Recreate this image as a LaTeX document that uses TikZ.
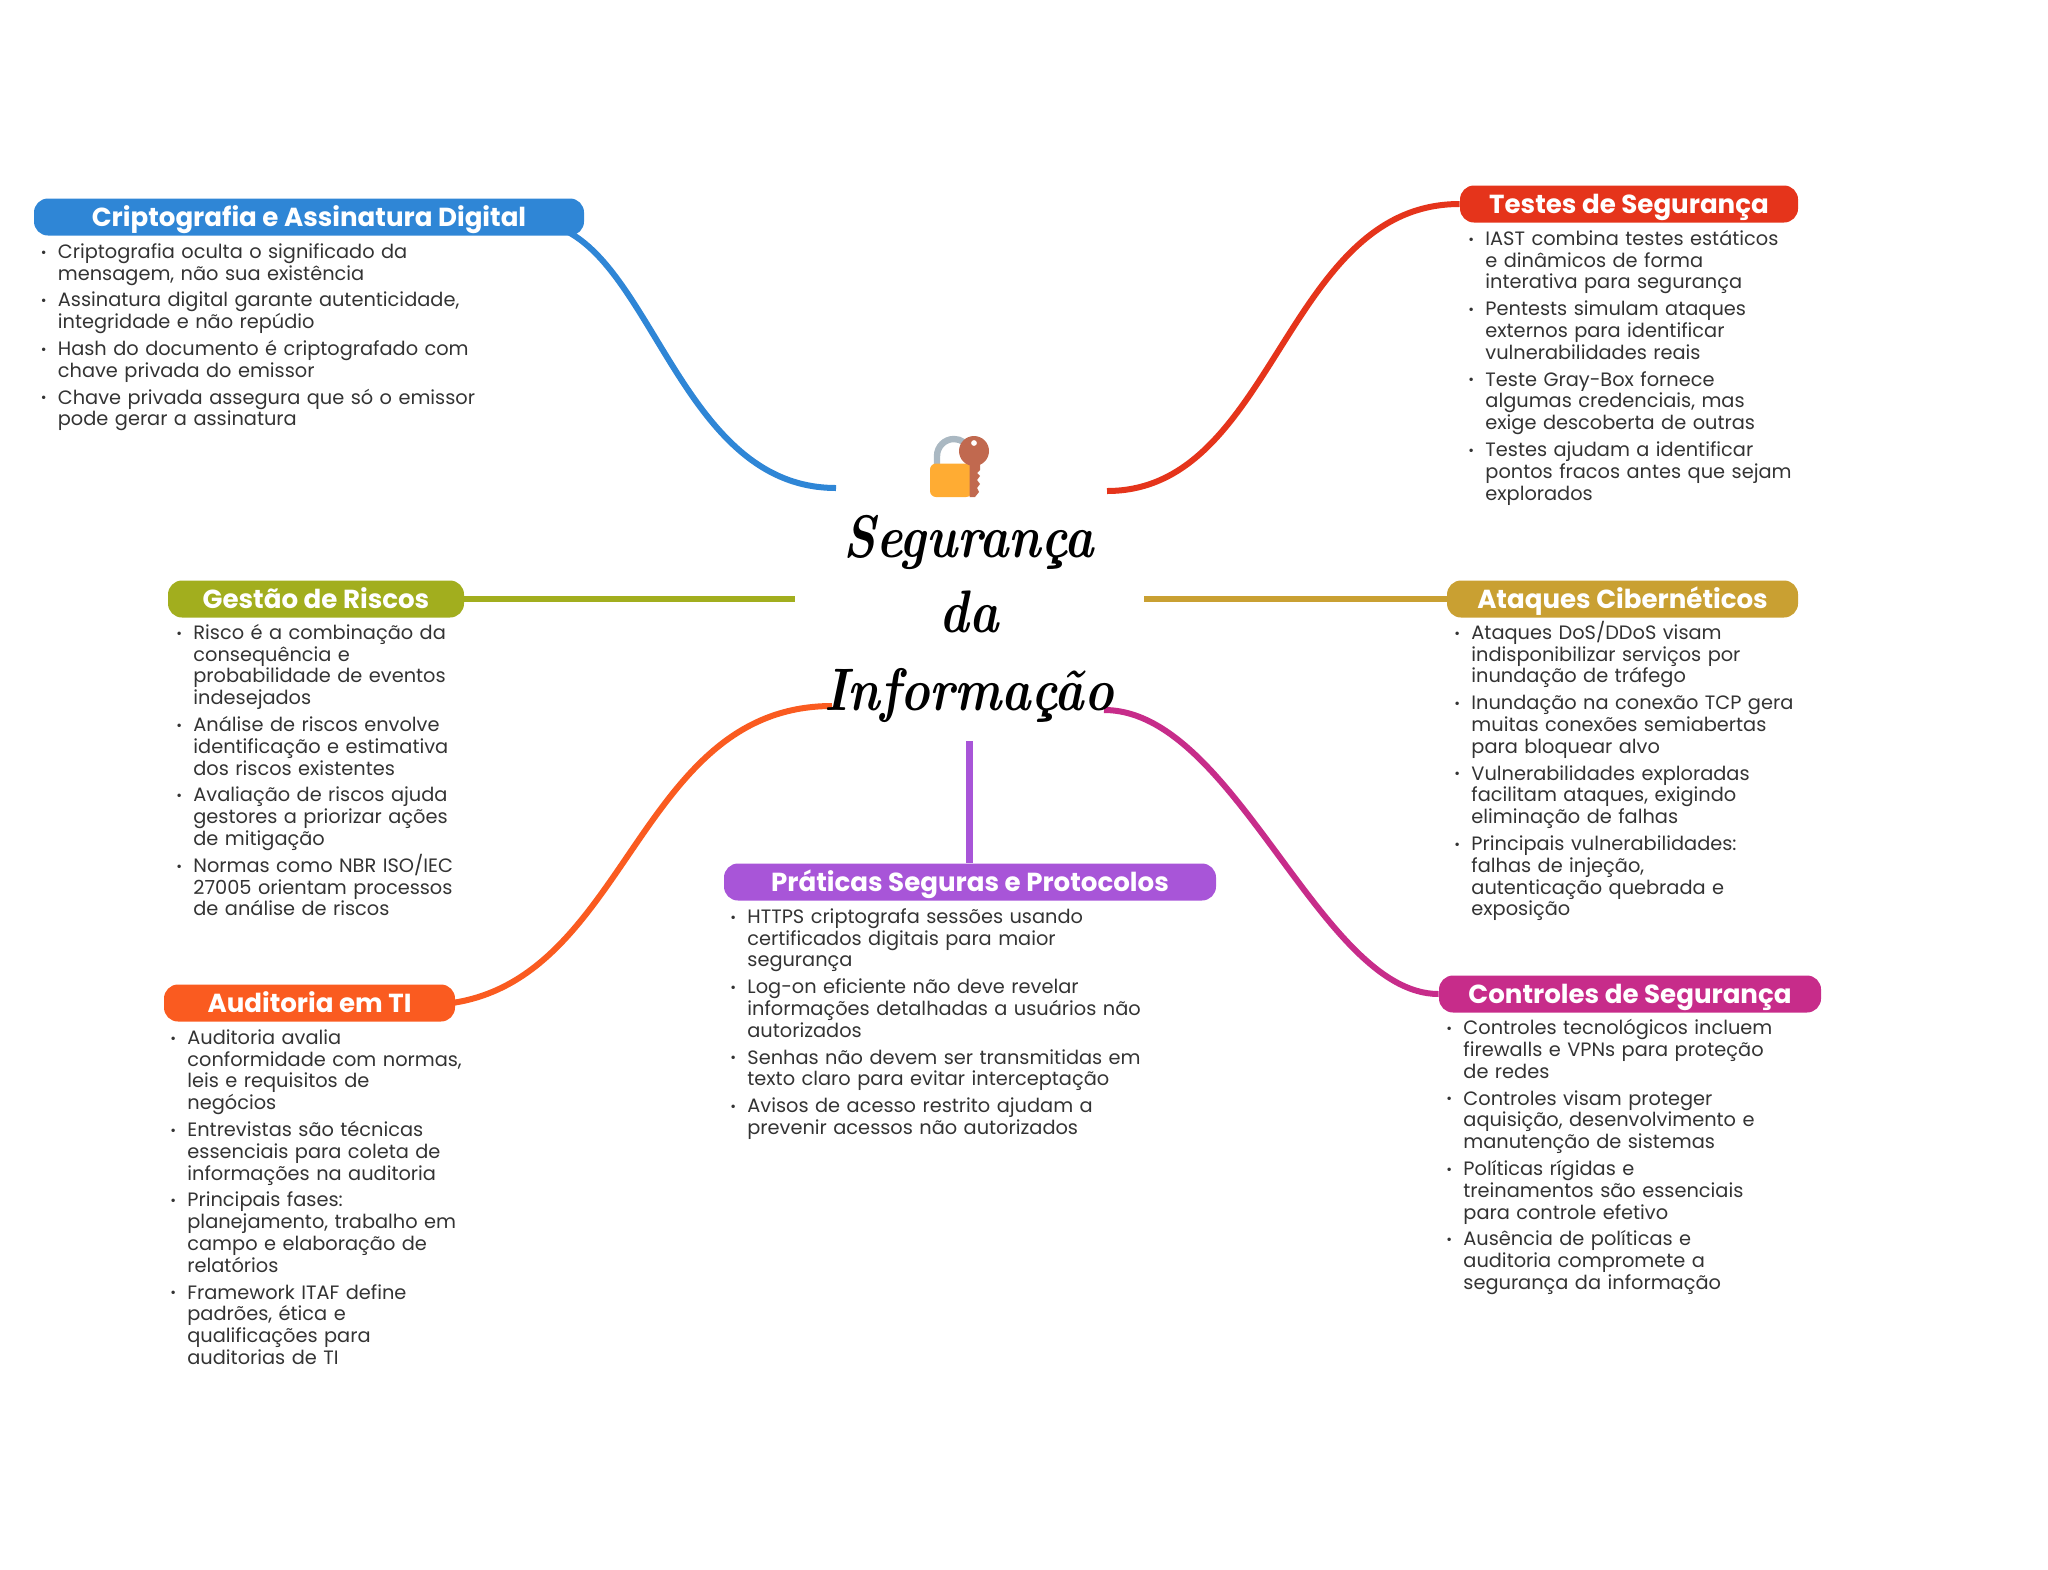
\documentclass[tikz,border=0pt]{standalone}
\usepackage{fontspec}
\usetikzlibrary{backgrounds}
\setmainfont{Poppins}
\newfontfamily\titlefont{Latin Modern Roman}
\definecolor{cblue}{HTML}{2F86D6}
\definecolor{cred}{HTML}{E5341B}
\definecolor{cgreen}{HTML}{A2AE1E}
\definecolor{cgold}{HTML}{C9A032}
\definecolor{corange}{HTML}{FA5B20}
\definecolor{cmag}{HTML}{C72C8A}
\definecolor{cpurple}{HTML}{A855D8}
\definecolor{ctext}{HTML}{333333}
\definecolor{cshackle}{HTML}{AAB8C2}
\definecolor{clock}{HTML}{FFAC33}
\definecolor{ckey}{HTML}{C1694F}
\newcommand{\bodyfont}{\fontsize{9.68}{10.9}\selectfont\setlength{\parskip}{2.5pt}\setlength{\baselineskip}{10.9pt}\setlength{\lineskiplimit}{-100pt}}
\newcommand{\itm}[1]{\par\let\\\break\hangindent=8.5pt\hangafter=1\noindent\makebox[8.5pt][l]{\raisebox{0.6pt}{\fontsize{7}{7}\selectfont •}}\rule{0pt}{9pt}#1\par}
\newcommand{\ttl}[1]{\scalebox{0.83}[1]{#1}}
\tikzset{
  pill/.style={fill=#1,rounded corners=7pt,inner sep=0pt,text=white,font=\fontsize{13.05}{14}\selectfont\bfseries,minimum height=18.5pt,text height=13.5pt,text depth=4pt},
  wire/.style={draw=#1,line width=3pt},
  body/.style={anchor=north west,inner sep=0pt,text=ctext,text width=#1*0.5pt,align=left,font=\bodyfont},
  ttlnode/.style={font=\fontsize{30}{30}\selectfont\titlefont\itshape\bfseries,inner sep=0pt,anchor=base},
}
\begin{document}
\begin{tikzpicture}[x=0.5pt,y=-0.5pt]
\useasboundingbox (0,0) rectangle (2048,1569);
% ends of the connectors
\coordinate (sblue) at (530,222);
\coordinate (eblue) at (836,488);
\coordinate (ered) at (1107,491);
\coordinate (egreen) at (795,599);
\coordinate (egold) at (1144,599);
\coordinate (sorange) at (424,1005);
\coordinate (eorange) at (832,706);
\coordinate (emag) at (1104,710);
\coordinate (epurple) at (969,741);
% pills
\node[pill=cblue,minimum width=275pt] (cripto) at (309,217) {Criptografia e Assinatura Digital};
\node[pill=cred,minimum width=169pt] (testes) at (1629,204) {Testes de Segurança};
\node[pill=cgreen,minimum width=148pt] (gestao) at (316,599) {Gestão de Riscos};
\node[pill=cgold,minimum width=175.5pt] (ataques) at (1622.5,599) {Ataques Cibernéticos};
\node[pill=corange,minimum width=145.5pt] (audit) at (309.5,1003) {Auditoria em TI};
\node[pill=cpurple,minimum width=246pt] (prat) at (970,882) {Práticas Seguras e Protocolos};
\node[pill=cmag,minimum width=191pt] (contr) at (1630,994) {Controles de Segurança};
% connectors
\begin{scope}[on background layer]
\draw[wire=cblue] (sblue) .. controls (650,222) and (670,488) .. (eblue);
\draw[wire=cred] (testes.west) .. controls (1284,204) and (1275,491) .. (ered);
\draw[wire=cgreen] (gestao.east) -- (egreen);
\draw[wire=cgold] (ataques.west) -- (egold);
\draw[wire=corange] (sorange) .. controls (628,1005) and (628,706) .. (eorange);
\draw[wire=cmag] (emag) .. controls (1235,710) and (1320,994) .. (contr.west);
\draw[wire=cpurple,line width=3.5pt] (epurple) -- (prat.north -| epurple);
\end{scope}
% icon
\draw[draw=cshackle,line width=3.2pt] (937,465) -- (937,456) arc[start angle=180,end angle=340,radius=17];
\fill[clock,rounded corners=3pt] (930,463.5) rectangle (972,497);
\fill[ckey,even odd rule] (974,451) circle[radius=15] (974,443) circle[radius=3];
\fill[ckey] (969.5,460) -- (980,460) -- (980,470) -- (977,473) -- (980,476) -- (977,480) -- (980,484) -- (977,488) -- (979,492) -- (975,497) -- (969.5,497) -- cycle;
% title
\node[ttlnode] (t1) at (969,557) {\ttl{Segurança}};
\node[ttlnode] (t2) at (969,632) {\ttl{da}};
\node[ttlnode] (t3) at (969,710) {\ttl{Informação}};
% bodies
\node[body=500] (bcripto) at (40.5,231) {%
\itm{Criptografia oculta o significado da\\mensagem, não sua existência}
\itm{Assinatura digital garante autenticidade,\\integridade e não repúdio}
\itm{Hash do documento é criptografado com\\chave privada do emissor}
\itm{Chave privada assegura que só o emissor\\pode gerar a assinatura}};
\node[body=340] (btestes) at (1468,218) {%
\itm{IAST combina testes estáticos\\e dinâmicos de forma\\interativa para segurança}
\itm{Pentests simulam ataques\\externos para identificar\\vulnerabilidades reais}
\itm{Teste Gray-Box fornece\\algumas credenciais, mas\\exige descoberta de outras}
\itm{Testes ajudam a identificar\\pontos fracos antes que sejam\\explorados}};
\node[body=310] (bgestao) at (176,612) {%
\itm{Risco é a combinação da\\consequência e\\probabilidade de eventos\\indesejados}
\itm{Análise de riscos envolve\\identificação e estimativa\\dos riscos existentes}
\itm{Avaliação de riscos ajuda\\gestores a priorizar ações\\de mitigação}
\itm{Normas como NBR ISO/IEC\\27005 orientam processos\\de análise de riscos}};
\node[body=360] (bataques) at (1454,612) {%
\itm{Ataques DoS/DDoS visam\\indisponibilizar serviços por\\inundação de tráfego}
\itm{Inundação na conexão TCP gera\\muitas conexões semiabertas\\para bloquear alvo}
\itm{Vulnerabilidades exploradas\\facilitam ataques, exigindo\\eliminação de falhas}
\itm{Principais vulnerabilidades:\\falhas de injeção,\\autenticação quebrada e\\exposição}};
\node[body=320] (baudit) at (170,1017) {%
\itm{Auditoria avalia\\conformidade com normas,\\leis e requisitos de\\negócios}
\itm{Entrevistas são técnicas\\essenciais para coleta de\\informações na auditoria}
\itm{Principais fases:\\planejamento, trabalho em\\campo e elaboração de\\relatórios}
\itm{Framework ITAF define\\padrões, ética e\\qualificações para\\auditorias de TI}};
\node[body=440] (bprat) at (730,896) {%
\itm{HTTPS criptografa sessões usando\\certificados digitais para maior\\segurança}
\itm{Log-on eficiente não deve revelar\\informações detalhadas a usuários não\\autorizados}
\itm{Senhas não devem ser transmitidas em\\texto claro para evitar interceptação}
\itm{Avisos de acesso restrito ajudam a\\prevenir acessos não autorizados}};
\node[body=360] (bcontr) at (1446,1007.5) {%
\itm{Controles tecnológicos incluem\\firewalls e VPNs para proteção\\de redes}
\itm{Controles visam proteger\\aquisição, desenvolvimento e\\manutenção de sistemas}
\itm{Políticas rígidas e\\treinamentos são essenciais\\para controle efetivo}
\itm{Ausência de políticas e\\auditoria compromete a\\segurança da informação}};
\end{tikzpicture}
\end{document}
